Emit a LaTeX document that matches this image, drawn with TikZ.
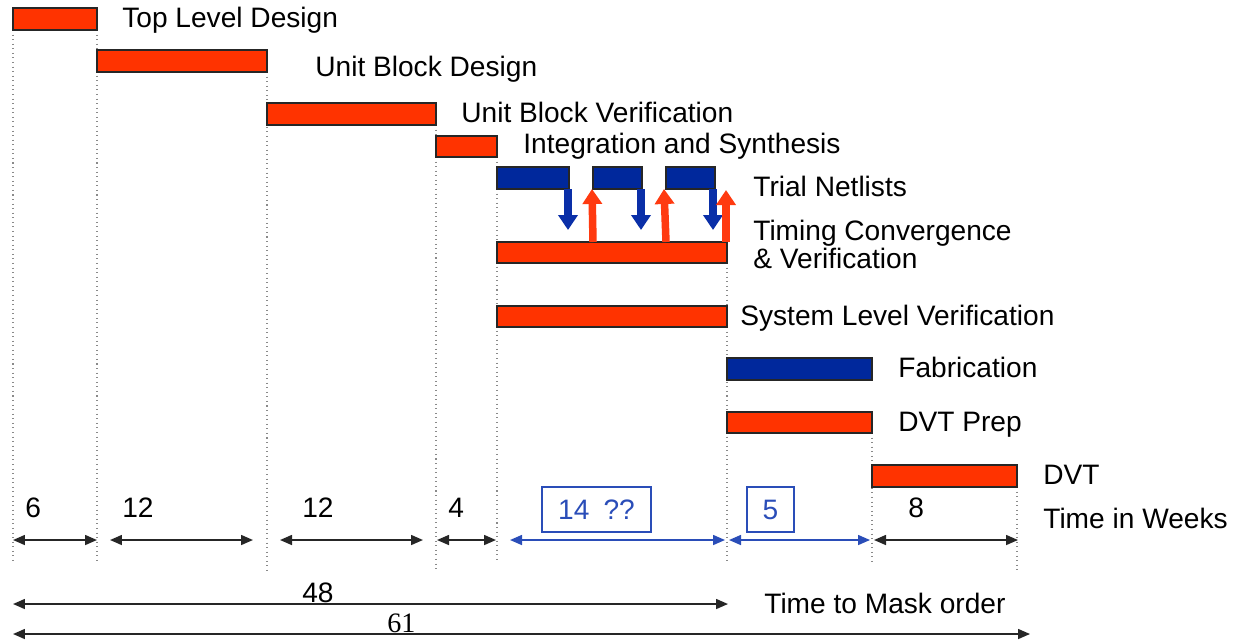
\documentclass[tikz,border=0pt]{standalone}
\usepackage{fontspec}
\setmainfont{Liberation Sans}
\newfontfamily\serifnum{Liberation Serif}
\usetikzlibrary{arrows.meta}

\definecolor{barred}{HTML}{FF3300}
\definecolor{barblue}{HTML}{00289C}
\definecolor{arrblue}{HTML}{0A2FA8}
\definecolor{arrred}{HTML}{FF3A10}
\definecolor{dimblue}{HTML}{2A4DB8}
\definecolor{gridgray}{HTML}{8A8A8A}

% a task bar from (x1,y1) to (x2,y2), in pixel units
\newcommand\taskbar[6]{%
  \node[#2, anchor=north west,
        minimum width={(#5-#3)*0.02cm}, minimum height={(#6-#4)*0.02cm}]
        (#1) at (#3,#4) {};}

\begin{document}
\begin{tikzpicture}[x=0.02cm, y=-0.02cm,
  every node/.style={font=\fontsize{16}{19}\selectfont},
  barbase/.style={draw=black!85, line width=0.75pt, inner sep=0pt, outer sep=0pt},
  redbar/.style={barbase, fill=barred},
  bluebar/.style={barbase, fill=barblue},
  label/.style={anchor=base west, inner sep=0pt, text=black},
  gridline/.style={gridgray, dotted, line width=0.6pt},
  dim/.style={black!85, line width=0.9pt, {Triangle[length=2.4mm,width=2mm]}-{Triangle[length=2.4mm,width=2mm]}},
  dimb/.style={dimblue, line width=0.9pt, {Triangle[length=2.4mm,width=2mm]}-{Triangle[length=2.4mm,width=2mm]}},
  span/.style={black!85, line width=0.9pt, {Triangle[length=2.4mm,width=2mm]}-{Triangle[length=2.4mm,width=2mm]}},
  downarrow/.style={arrblue, line width=0.15cm, -{Triangle[length=3mm,width=3.8mm]}},
  uparrow/.style={arrred, line width=0.15cm, -{Triangle[length=3mm,width=3.8mm]}},
  numbox/.style={draw=dimblue, line width=0.9pt, text=dimblue, inner sep=0pt,
                 minimum height=0.9cm}
]
\useasboundingbox (0,0) rectangle (1236,640);

% phase boundaries
\draw[gridline] (13,30) -- (13,560);
\draw[gridline] (97,30) -- (97,560);
\draw[gridline] (267,72) -- (267,570);
\draw[gridline] (436,125) -- (436,570);
\draw[gridline] (497,157) -- (497,560);
\draw[gridline] (727,263) -- (727,562);
\draw[gridline] (872,433) -- (872,562);
\draw[gridline] (1017,487) -- (1017,572);

% task bars
\taskbar{tld}{redbar}{13}{8}{97}{30}
\taskbar{ubd}{redbar}{97}{50}{267}{72}
\taskbar{ubv}{redbar}{267}{103}{436}{125}
\taskbar{ias}{redbar}{436}{136}{497}{157}
\taskbar{tn1}{bluebar}{497}{167}{569}{189}
\taskbar{tn2}{bluebar}{593}{167}{642}{189}
\taskbar{tn3}{bluebar}{666}{167}{715}{189}
\taskbar{tcv}{redbar}{497}{242}{727}{263}
\taskbar{slv}{redbar}{497}{306}{727}{327}
\taskbar{fab}{bluebar}{727}{358}{872}{380}
\taskbar{dvp}{redbar}{727}{412}{872}{433}
\taskbar{dvt}{redbar}{872}{465}{1017}{487}

% netlist hand-offs
\coordinate (d1) at (568,230);
\coordinate (d2) at (641,230);
\coordinate (d3) at (713,230);
\draw[downarrow] (tn1.south -| d1) -- (d1);
\draw[downarrow] (tn2.south -| d2) -- (d2);
\draw[downarrow] (tn3.south -| d3) -- (d3);
\coordinate (u3) at (726,190);
\draw[uparrow] (tcv.north -| tn2.south west) -- ([xshift=-0.02cm]tn2.south west);
\draw[uparrow] (tcv.north -| tn3.south west) -- ([xshift=-0.04cm]tn3.south west);
\draw[uparrow] (tcv.north -| u3) -- (u3);

% task labels
\node[label] (l1) at (122,27) {Top Level Design};
\node[label] (l2) at (315,76) {Unit Block Design};
\node[label] (l3) at (461,122) {Unit Block Verification};
\node[label] (l4) at (523,153) {Integration and Synthesis};
\node[label] (l5) at (753,196) {Trial Netlists};
\node[label] (l6) at (753,240) {Timing Convergence};
\node[label] (l6b) at (753,268) {\& Verification};
\node[label] (l7) at (740,325) {System Level Verification};
\node[label] (l8) at (898,377) {Fabrication};
\node[label] (l9) at (898,431) {DVT Prep};
\node[label] (l10) at (1043,484) {DVT};
\node[label] (l11) at (1043,528) {Time in Weeks};
\node[label] (l12) at (764,613) {Time to Mask order};

% durations
\node[label] (n1) at (25,517) {6};
\node[label] (n2) at (122,517) {12};
\node[label] (n3) at (302,517) {12};
\node[label] (n4) at (448,517) {4};
\node[label] (n7) at (908,517) {8};
\node[numbox, minimum width=2.18cm] (n5) at (596.5,509.5) {14\enspace??};
\node[numbox, minimum width=0.94cm] (n6) at (770.5,509.5) {5};

\coordinate (a0) at (13,540);   \coordinate (a1) at (97,540);
\coordinate (b0) at (110,540);  \coordinate (b1) at (253,540);
\coordinate (c0) at (280,540);  \coordinate (c1) at (423,540);
\coordinate (e0) at (437,540);  \coordinate (e1) at (496,540);
\coordinate (f0) at (510,540);  \coordinate (f1) at (725,540);
\coordinate (h0) at (729,540);  \coordinate (h1) at (870,540);
\coordinate (k0) at (874,540);  \coordinate (k1) at (1018,540);
\draw[dim] (a0) -- (a1);
\draw[dim] (b0) -- (b1);
\draw[dim] (c0) -- (c1);
\draw[dim] (e0) -- (e1);
\draw[dimb] (f0) -- (f1);
\draw[dimb] (h0) -- (h1);
\draw[dim] (k0) -- (k1);

% totals
\coordinate (m0) at (13,604);  \coordinate (m1) at (728,604);
\coordinate (t0) at (13,634);  \coordinate (t1) at (1030,634);
\draw[span] (m0) -- (m1);
\draw[span] (t0) -- (t1);
\node[label] (n48) at (302,602) {48};
\node[label, font=\serifnum\fontsize{16}{19}\selectfont] (n61) at (387,632) {61};
\end{tikzpicture}
\end{document}
